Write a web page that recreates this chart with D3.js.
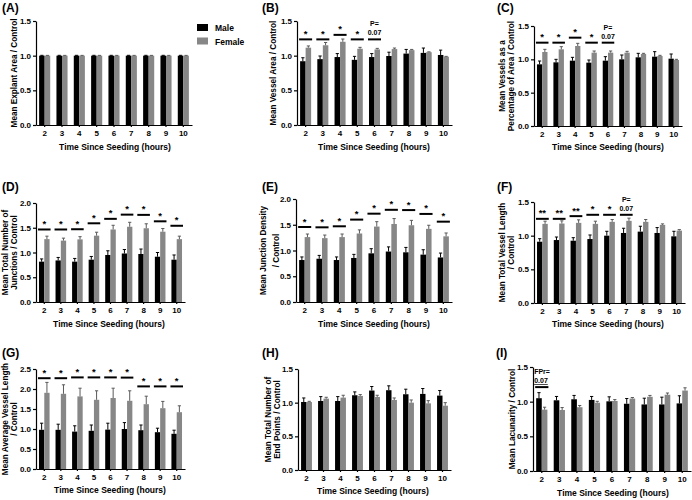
<!DOCTYPE html>
<html><head><meta charset="utf-8">
<script src="https://cdn.jsdelivr.net/npm/d3@7"></script>
<style>
html,body{margin:0;padding:0;background:#fff;}
svg text{font-family:"Liberation Sans",Arial,sans-serif;font-weight:bold;fill:#000;}
</style></head>
<body>
<svg id="chart" width="692" height="500"></svg>
<script>
const categories = ["2","3","4","5","6","7","8","9","10"];
const seriesNames = ["Male","Female"];

// (A) Mean Explant Area / Control
const explantMale = [1,1,1,1,1,1,1,1,1];
const explantMaleErr = [0.005,0.005,0.005,0.005,0.005,0.005,0.005,0.005,0.005];
const explantFemale = [1,1,1,1,1,1,1,1,1];
const explantFemaleErr = [0.004,0.004,0.004,0.004,0.004,0.004,0.004,0.004,0.004];
const explantSig = [];

// (B) Mean Vessel Area / Control
const vesselAreaMale = [0.92,0.95,0.98,0.94,0.98,0.995,1.03,1.04,1.01];
const vesselAreaMaleErr = [0.05,0.045,0.05,0.05,0.05,0.055,0.06,0.07,0.07];
const vesselAreaFemale = [1.115,1.15,1.20,1.10,1.09,1.095,1.08,1.05,0.985];
const vesselAreaFemaleErr = [0.025,0.04,0.04,0.02,0.015,0.015,0.01,0.005,0.005];
const vesselAreaSig = [
  {cat:"2",label:["*"],level:1.235},{cat:"3",label:["*"],level:1.235},
  {cat:"4",label:["*"],level:1.30},{cat:"5",label:["*"],level:1.235},
  {cat:"6",label:["P=","0.07"],level:1.235}];

// (C) Mean Vessels as a Percentage of Area / Control
const vesselPctMale = [0.925,0.955,0.98,0.95,0.98,1.0,1.03,1.04,1.01];
const vesselPctMaleErr = [0.05,0.045,0.05,0.04,0.06,0.065,0.06,0.075,0.07];
const vesselPctFemale = [1.11,1.15,1.20,1.10,1.10,1.10,1.08,1.05,0.99];
const vesselPctFemaleErr = [0.04,0.04,0.04,0.025,0.025,0.02,0.01,0.01,0.01];
const vesselPctSig = [
  {cat:"2",label:["*"],level:1.25},{cat:"3",label:["*"],level:1.25},
  {cat:"4",label:["*"],level:1.325},{cat:"5",label:["*"],level:1.25},
  {cat:"6",label:["P=","0.07"],level:1.25}];

// (D) Mean Total Number of Junctions / Control
const junctionsMale = [0.815,0.84,0.815,0.855,0.95,0.98,0.97,0.915,0.855];
const junctionsMaleErr = [0.055,0.06,0.065,0.065,0.085,0.08,0.10,0.085,0.095];
const junctionsFemale = [1.27,1.24,1.265,1.34,1.465,1.52,1.49,1.42,1.27];
const junctionsFemaleErr = [0.06,0.05,0.055,0.07,0.085,0.09,0.09,0.065,0.06];
const junctionsSigLevels = [1.465,1.465,1.47,1.59,1.68,1.765,1.76,1.63,1.54];

// (E) Mean Junction Density / Control
const densityMale = [0.815,0.84,0.815,0.855,0.945,0.98,0.965,0.92,0.865];
const densityMaleErr = [0.06,0.065,0.06,0.07,0.09,0.09,0.095,0.095,0.085];
const densityFemale = [1.26,1.24,1.26,1.33,1.465,1.515,1.49,1.42,1.275];
const densityFemaleErr = [0.06,0.06,0.06,0.07,0.095,0.105,0.095,0.07,0.065];
const densitySigLevels = [1.456,1.45,1.47,1.60,1.715,1.79,1.785,1.71,1.56];

// (F) Mean Total Vessel Length / Control
const lengthMale = [0.91,0.935,0.925,0.95,1.0,1.04,1.06,1.04,0.99];
const lengthMaleErr = [0.045,0.045,0.045,0.06,0.065,0.07,0.08,0.08,0.075];
const lengthFemale = [1.175,1.18,1.19,1.175,1.205,1.22,1.205,1.16,1.075];
const lengthFemaleErr = [0.04,0.04,0.045,0.04,0.035,0.04,0.035,0.015,0.015];
const lengthSig = [
  {cat:"2",label:["**"],level:1.25},{cat:"3",label:["**"],level:1.25},
  {cat:"4",label:["**"],level:1.29},{cat:"5",label:["*"],level:1.31},
  {cat:"6",label:["*"],level:1.31},{cat:"7",label:["P=","0.07"],level:1.31}];

// (G) Mean Average Vessel Length / Control
const avgLengthMale = [0.98,0.98,0.935,0.955,0.985,1.0,0.97,0.92,0.88];
const avgLengthMaleErr = [0.165,0.14,0.145,0.145,0.16,0.16,0.13,0.10,0.09];
const avgLengthFemale = [1.905,1.88,1.815,1.73,1.775,1.705,1.62,1.52,1.42];
const avgLengthFemaleErr = [0.26,0.225,0.205,0.225,0.245,0.25,0.20,0.17,0.16];
const avgLengthSigLevels = [2.27,2.27,2.29,2.29,2.29,2.285,2.065,2.065,2.065];

// (H) Mean Total Number of End Points / Control
const endPointsMale = [1.01,1.025,1.025,1.11,1.18,1.185,1.125,1.13,1.105];
const endPointsMaleErr = [0.06,0.065,0.065,0.05,0.06,0.065,0.075,0.08,0.075];
const endPointsFemale = [1.01,1.06,1.075,1.10,1.085,1.04,1.0,0.99,0.955];
const endPointsFemaleErr = [0.01,0.02,0.035,0.02,0.025,0.03,0.04,0.04,0.045];
const endPointsSig = [];

// (I) Mean Lacunarity / Control
const lacunarityMale = [1.05,1.02,1.035,1.025,1.005,0.97,0.96,0.96,0.975];
const lacunarityMaleErr = [0.08,0.055,0.055,0.05,0.065,0.075,0.09,0.105,0.11];
const lacunarityFemale = [0.885,0.88,0.92,0.985,1.01,1.045,1.07,1.10,1.16];
const lacunarityFemaleErr = [0.035,0.035,0.025,0.02,0.02,0.015,0.02,0.025,0.04];
const lacunaritySig = [{cat:"2",label:["FPr=","0.07"],level:1.21}];

const ticks15 = [0,0.5,1.0,1.5];
const ticks20 = [0,0.5,1.0,1.5,2.0];
const ticks25 = [0,0.5,1.0,1.5,2.0,2.5];
const xTitle = "Time Since Seeding (hours)";

function starSig(levels){ return categories.map((c,i)=>({cat:c,label:["*"],level:levels[i]})); }

const panels = [
 {tag:"(A)", yTitle:["Mean Explant Area / Control"], male:explantMale, maleErr:explantMaleErr, female:explantFemale, femaleErr:explantFemaleErr, sig:explantSig, ticks:ticks15,
  L:{x0:36,x1:192,yTop:21,yBot:125,tagX:2,tagY:12,titleX:[14],xtX:115,xtY:150,legend:true}},
 {tag:"(B)", yTitle:["Mean Vessel Area / Control"], male:vesselAreaMale, maleErr:vesselAreaMaleErr, female:vesselAreaFemale, femaleErr:vesselAreaFemaleErr, sig:vesselAreaSig, ticks:ticks15,
  L:{x0:297,x1:452,yTop:21,yBot:125,tagX:262,tagY:12,titleX:[273],xtX:374,xtY:150}},
 {tag:"(C)", yTitle:["Mean Vessels as a","Percentage of Area / Control"], male:vesselPctMale, maleErr:vesselPctMaleErr, female:vesselPctFemale, femaleErr:vesselPctFemaleErr, sig:vesselPctSig, ticks:ticks15,
  L:{x0:534,x1:682,yTop:26,yBot:126,tagX:497,tagY:12,titleX:[502,511],xtX:608,xtY:150}},
 {tag:"(D)", yTitle:["Mean Total Number of","Junctions / Control"], male:junctionsMale, maleErr:junctionsMaleErr, female:junctionsFemale, femaleErr:junctionsFemaleErr, sig:starSig(junctionsSigLevels), ticks:ticks20,
  L:{x0:36,x1:185,yTop:203,yBot:302,tagX:2,tagY:191,titleX:[5,14],xtX:109,xtY:327}},
 {tag:"(E)", yTitle:["Mean Junction Density","/ Control"], male:densityMale, maleErr:densityMaleErr, female:densityFemale, femaleErr:densityFemaleErr, sig:starSig(densitySigLevels), ticks:ticks20,
  L:{x0:296,x1:452,yTop:199,yBot:302,tagX:262,tagY:191,titleX:[263,276],xtX:374,xtY:327}},
 {tag:"(F)", yTitle:["Mean Total Vessel Length","/ Control"], male:lengthMale, maleErr:lengthMaleErr, female:lengthFemale, femaleErr:lengthFemaleErr, sig:lengthSig, ticks:ticks15,
  L:{x0:534,x1:685,yTop:202,yBot:303,tagX:497,tagY:191,titleX:[502,511],xtX:608,xtY:327}},
 {tag:"(G)", yTitle:["Mean Average Vessel Length","/ Control"], male:avgLengthMale, maleErr:avgLengthMaleErr, female:avgLengthFemale, femaleErr:avgLengthFemaleErr, sig:starSig(avgLengthSigLevels), ticks:ticks25,
  L:{x0:36,x1:185,yTop:369,yBot:469,tagX:2,tagY:357,titleX:[5,14],xtX:110,xtY:493}},
 {tag:"(H)", yTitle:["Mean Total Number of","End Points / Control"], male:endPointsMale, maleErr:endPointsMaleErr, female:endPointsFemale, femaleErr:endPointsFemaleErr, sig:endPointsSig, ticks:ticks15,
  L:{x0:298,x1:451,yTop:369,yBot:470,tagX:262,tagY:357,titleX:[268,277],xtX:373,xtY:494}},
 {tag:"(I)", yTitle:["Mean Lacunarity / Control"], male:lacunarityMale, maleErr:lacunarityMaleErr, female:lacunarityFemale, femaleErr:lacunarityFemaleErr, sig:lacunaritySig, ticks:ticks15,
  L:{x0:533,x1:691,yTop:367,yBot:471,tagX:496,tagY:357,titleX:[512],xtX:613,xtY:496,sigAnchorStart:true}}
];

const colors = {Male:"#000000", Female:"#878787"};
const errColors = {Male:"#000000", Female:"#5a5a5a"};
const svg = d3.select("#chart");

panels.forEach(p=>{
  const L = p.L;
  const yMax = p.ticks[p.ticks.length-1];
  const x = d3.scaleBand().domain(categories).range([L.x0,L.x1]).paddingInner(0.36).paddingOuter(0.18);
  const y = d3.scaleLinear().domain([0,yMax]).range([L.yBot,L.yTop]);
  const g = svg.append("g");
  const bw = x.bandwidth()/2;

  // bars
  const series = [
    {name:"Male", vals:p.male, errs:p.maleErr, off:0},
    {name:"Female", vals:p.female, errs:p.femaleErr, off:bw}
  ];
  series.forEach(s=>{
    const sg = g.append("g");
    sg.selectAll("rect").data(categories).join("rect")
      .attr("x",c=>x(c)+s.off).attr("width",bw)
      .attr("y",(c,i)=>y(s.vals[i])).attr("height",(c,i)=>y(0)-y(s.vals[i]))
      .attr("fill",colors[s.name]);
    const eg = sg.append("g").attr("stroke",errColors[s.name]).attr("stroke-width",1);
    categories.forEach((c,i)=>{
      const cx = x(c)+s.off+bw/2;
      const top = y(s.vals[i]+s.errs[i]);
      eg.append("line").attr("x1",cx).attr("x2",cx).attr("y1",y(s.vals[i])).attr("y2",top);
      eg.append("line").attr("x1",cx-1.6).attr("x2",cx+1.6).attr("y1",top).attr("y2",top);
    });
  });

  // axes
  const ya = g.append("g").attr("transform",`translate(${L.x0},0)`)
    .call(d3.axisLeft(y).tickValues(p.ticks).tickFormat(d3.format(".1f")).tickSize(3).tickSizeOuter(0).tickPadding(2));
  const xa = g.append("g").attr("transform",`translate(0,${L.yBot})`)
    .call(d3.axisBottom(x).tickSize(2).tickSizeOuter(0).tickPadding(3));
  [ya,xa].forEach(a=>{
    a.selectAll("path,line").attr("stroke","#000").attr("stroke-width",1.2);
    a.selectAll("text").attr("font-size",8).attr("font-family",null);
  });

  // significance annotations
  p.sig.forEach(s=>{
    const lx1 = x(s.cat)-1, lx2 = x(s.cat)+x.bandwidth()+1;
    const ly = y(s.level);
    g.append("line").attr("x1",lx1).attr("x2",lx2).attr("y1",ly).attr("y2",ly)
      .attr("stroke","#000").attr("stroke-width",2);
    const cx = (lx1+lx2)/2;
    if (s.label.length===1){
      g.append("text").attr("x",cx).attr("y",ly-2.5).attr("text-anchor","middle")
        .attr("font-size",9.5).text(s.label[0]);
    } else {
      const anchorStart = !!L.sigAnchorStart;
      const tx = anchorStart ? lx1-1 : cx;
      g.append("text").attr("x",tx).attr("y",ly-13).attr("text-anchor",anchorStart?"start":"middle")
        .attr("font-size",7).text(s.label[0]);
      g.append("text").attr("x",tx).attr("y",ly-4).attr("text-anchor",anchorStart?"start":"middle")
        .attr("font-size",7).attr("text-decoration",anchorStart?"underline":null).text(s.label[1]);
    }
  });

  // panel tag
  svg.append("text").attr("x",L.tagX).attr("y",L.tagY).attr("font-size",12).text(p.tag);

  // y title
  const yc = (L.yTop+L.yBot)/2;
  p.yTitle.forEach((t,i)=>{
    svg.append("text").attr("transform",`translate(${L.titleX[i]},${yc}) rotate(-90)`)
      .attr("text-anchor","middle").attr("dominant-baseline","central")
      .attr("font-size",8.2).text(t);
  });

  // x title
  svg.append("text").attr("x",L.xtX).attr("y",L.xtY).attr("text-anchor","middle")
    .attr("font-size",8.5).text(xTitle);

  // legend
  if (L.legend){
    const lg = svg.append("g").attr("transform","translate(197,24)");
    seriesNames.forEach((n,i)=>{
      lg.append("rect").attr("x",0).attr("y",i*13.5).attr("width",11).attr("height",7).attr("fill",colors[n]);
      lg.append("text").attr("x",18).attr("y",i*13.5+7).attr("font-size",8.5).text(n);
    });
  }
});
</script>
</body></html>
